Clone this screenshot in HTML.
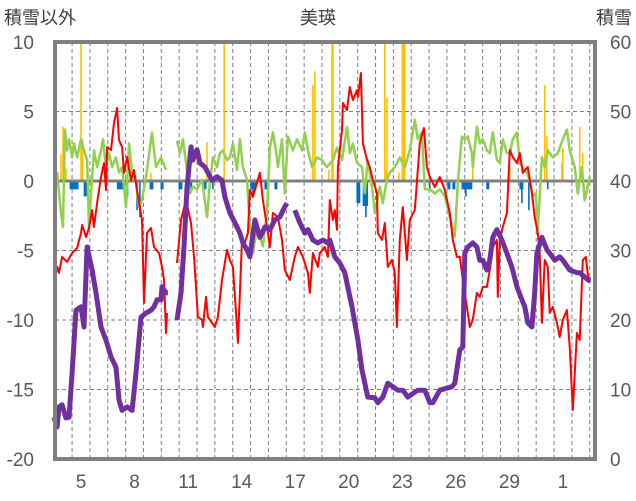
<!DOCTYPE html>
<html><head><meta charset="utf-8"><style>
html,body{margin:0;padding:0;background:#fff;}
svg{display:block;font-family:"Liberation Sans","Noto Sans CJK JP",sans-serif;}
</style></head><body>
<svg id="chart" width="636" height="501" viewBox="0 0 636 501" xmlns="http://www.w3.org/2000/svg">
<text x="4" y="24" font-size="18" fill="#404040">積雪以外</text>
<text x="318" y="24" font-size="18" fill="#404040" text-anchor="middle">美瑛</text>
<text x="632" y="24" font-size="18" fill="#404040" text-anchor="end">積雪</text>
<g id="grid"></g>
<g id="bars"></g>
<line x1="55" x2="595" y1="181" y2="181" stroke="#808080" stroke-width="3"/>
<g id="lines"></g>
<rect x="55" y="42" width="540" height="417" fill="none" stroke="#808080" stroke-width="4"/>
<g id="ticks"></g>
</svg>
<script>
const leftTicks=[10,5,0,-5,-10,-15,-20];
const rightTicks=[60,50,40,30,20,10,0];
const dayTicks=[5,8,11,14,17,20,23,26,29,32];
const dayLabels=["5","8","11","14","17","20","23","26","29","1"];
const redT=[3.49,3.67,3.77,3.94,4.22,4.50,4.78,5.00,5.06,5.28,5.45,5.62,5.73,5.90,6.12,6.29,6.40,6.46,6.68,6.85,7.02,7.13,7.30,7.41,7.58,7.80,7.97,8.14,8.42,8.53,8.70,8.92,9.09,9.37,9.54,9.65,9.76,9.82,null,10.38,10.60,10.88,11.16,11.33,11.38,11.55,11.78,11.83,12.00,12.11,12.34,12.50,12.67,12.90,13.18,13.34,13.51,13.74,13.79,14.02,14.18,14.35,14.46,14.63,14.86,15.02,15.19,15.42,15.58,15.75,16.03,16.26,16.42,16.70,16.98,17.15,17.43,17.71,17.82,17.99,18.27,18.38,18.66,18.83,18.94,19.11,19.22,19.34,19.39,19.62,19.67,19.90,20.06,20.23,20.46,20.51,20.68,20.79,21.02,21.18,21.35,21.58,21.63,21.86,22.02,22.19,22.42,22.58,22.70,22.86,23.03,23.26,23.42,23.70,23.98,24.21,24.38,24.54,24.82,25.10,25.38,25.66,25.83,26.06,26.22,26.39,26.62,26.78,26.95,27.18,27.34,27.51,27.74,27.90,28.07,28.30,28.35,28.46,28.63,28.86,29.02,29.19,29.42,29.58,29.75,30.03,30.26,30.42,30.59,30.70,30.82,30.98,31.15,31.26,31.43,31.66,31.82,31.99,32.22,32.38,32.55,32.78,32.94,33.11,33.28,33.45];
const redV=[-7.33,-6.18,-6.61,-5.46,-5.82,-5.18,-4.82,-3.74,-3.16,-4.03,-3.38,-2.09,-3.31,-1.58,0.29,1.29,-0.65,2.44,2.23,4.17,5.25,2.95,2.44,0.58,1.73,0.07,0.79,-0.65,-2.80,-8.77,-3.74,-3.38,-4.75,-5.18,-6.18,-7.12,-10.93,-9.49,null,-5.90,-2.80,-1.37,-3.02,-5.46,-6.40,-9.78,-9.99,-10.50,-8.34,-9.78,-10.21,-10.50,-9.78,-7.12,-4.96,-5.68,-6.18,-10.50,-11.65,-4.24,-4.46,-3.74,-0.65,-1.15,-0.14,0.58,-1.37,-3.31,-4.75,-2.30,-2.59,-4.24,-6.40,-7.12,-5.46,-4.75,-5.46,-6.61,-8.05,-5.18,-6.18,-5.18,-4.75,-5.46,-1.37,-2.80,-2.09,-3.52,1.01,3.67,5.61,5.10,6.76,5.82,6.54,6.04,7.77,2.73,1.51,1.01,0.07,-0.86,-3.74,-4.24,-3.02,-6.18,-5.68,-6.61,-10.50,-4.24,-1.87,-5.68,-2.80,-2.09,2.73,3.81,1.01,0.29,-0.43,0.29,-0.65,-2.30,-4.24,-5.46,-5.46,-7.12,-9.06,-10.50,-9.99,-8.05,-8.34,-7.62,-7.62,-6.40,-4.75,-4.24,-8.34,-4.24,-3.31,-2.30,2.23,1.73,1.29,2.01,0.58,1.01,-0.86,-2.59,-3.74,-5.18,-10.21,-5.68,-6.18,-9.49,-9.06,-10.21,-11.22,-9.99,-9.28,-11.94,-16.47,-10.93,-11.43,-5.68,-5.46,-7.33];
const greenT=[3.49,3.66,3.88,3.99,4.10,4.22,4.33,4.50,4.61,4.78,5.00,5.17,5.34,5.45,5.56,5.73,5.90,6.12,6.23,6.40,6.57,6.74,6.96,7.13,7.30,7.52,7.69,7.86,8.08,8.25,8.42,8.70,8.98,9.20,9.48,9.76,null,10.38,10.54,10.71,10.94,11.10,11.27,11.50,11.78,12.06,12.22,12.39,12.62,12.78,12.95,13.18,13.34,13.51,13.74,13.90,14.07,14.30,14.46,14.63,14.86,15.02,15.19,15.42,15.58,15.75,15.92,16.03,16.26,16.42,16.59,16.87,17.10,17.38,17.54,17.71,17.94,18.22,18.50,18.78,19.11,19.34,19.62,19.90,20.06,20.23,20.46,20.74,20.90,21.07,21.30,21.46,21.74,21.91,22.14,22.30,22.58,22.86,23.14,23.42,23.70,23.87,24.10,24.26,24.54,24.82,25.10,25.38,25.66,25.94,26.11,26.34,26.50,26.67,26.90,26.95,27.18,27.34,27.51,27.74,27.90,28.07,28.30,28.46,28.63,28.86,29.02,29.19,29.42,29.58,29.75,29.98,30.14,30.31,30.48,30.59,30.82,30.98,31.15,31.43,31.71,31.99,32.22,32.38,32.66,32.83,33.06,33.22,33.50];
const greenV=[0.07,0.6,-2.3,-3.3,3.7,2.2,3.0,1.7,2.7,1.7,3.0,2.2,1.5,-3.5,-0.9,2.2,1.0,2.2,3.0,1.0,2.0,1.0,1.7,0.6,1.0,-1.9,2.7,0.6,-0.1,-1.9,-1.4,0.8,3.5,1.0,1.7,0.8,null,2.9,2.0,3.0,0.8,-0.9,-0.4,-0.6,0.1,-2.6,-0.1,1.7,1.0,2.0,2.2,1.5,1.7,2.7,0.8,3.0,1.0,0.1,-3.3,-5.2,-3.3,-4.0,-4.7,-2.3,2.4,3.5,2.2,1.0,3.0,-0.9,3.2,2.2,3.0,2.2,3.5,2.2,1.0,1.7,1.5,1.0,1.5,2.4,1.5,3.9,2.0,2.7,1.3,1.0,-0.9,1.5,-0.4,-2.3,-0.4,-1.6,0.1,0.6,1.0,1.7,1.0,2.2,4.4,3.0,3.5,-0.6,-0.6,-0.9,-0.6,-1.1,-2.6,-4.0,-0.1,3.2,3.0,3.2,2.0,1.0,3.9,2.7,3.0,2.2,2.0,3.5,1.5,1.3,3.0,2.0,2.0,3.0,3.5,1.3,1.0,0.6,0.1,-1.1,-0.9,-3.5,1.7,1.0,2.2,1.7,2.0,3.0,3.7,2.2,1.0,-0.9,1.0,-1.4,0.3,0.6];
const snowT=[3.49,3.66,3.77,3.94,4.16,4.33,4.50,4.72,5.00,5.17,5.34,5.62,5.84,6.12,6.40,6.68,6.96,7.13,7.30,7.58,7.86,8.08,8.36,8.64,8.92,9.09,9.26,9.48,9.54,9.76,9.87,null,10.38,10.60,10.77,10.94,11.16,11.27,11.50,11.66,11.94,12.11,12.34,12.62,12.90,13.06,13.34,13.62,13.90,14.07,14.30,14.46,14.74,15.02,15.30,15.58,15.86,16.14,16.42,16.54,null,16.98,17.26,17.54,17.71,17.99,18.27,18.55,18.83,18.94,19.22,19.50,19.78,20.18,20.51,20.74,21.07,21.46,21.63,21.91,22.19,22.75,23.03,23.31,23.87,24.26,24.54,24.71,25.10,25.78,25.94,26.22,26.39,26.50,26.67,26.95,27.18,27.34,27.51,27.74,27.90,28.07,28.30,28.58,28.86,29.14,29.42,29.70,29.86,30.03,30.26,30.42,30.54,30.82,31.10,31.26,31.54,31.82,31.99,32.38,32.78,32.94,33.39,33.56];
const snowV=[6.0,4.6,7.5,7.8,5.9,6.0,12.4,21.4,21.9,19.0,30.5,27.2,23.9,19.0,17.1,14.7,13.2,8.5,7.0,7.5,7.0,12.4,20.4,21.0,21.4,21.9,22.9,22.9,24.8,23.9,23.9,null,20.0,23.9,30.5,39.1,44.9,43.0,44.5,42.6,42.0,41.2,40.1,40.6,40.1,37.7,35.4,34.0,32.5,31.1,30.1,29.1,34.4,31.9,33.4,33.0,34.4,34.8,36.3,36.8,null,35.8,34.0,32.5,33.0,31.5,31.1,31.5,31.1,31.5,29.1,28.2,26.8,21.9,17.1,12.8,8.9,8.8,8.1,8.9,10.9,9.9,9.9,8.9,9.9,9.9,8.1,8.1,9.9,10.4,10.9,15.7,16.1,29.6,30.5,31.1,30.5,28.6,28.6,27.2,28.6,31.9,33.0,31.5,29.6,27.6,24.8,22.9,21.9,19.6,19.0,23.9,29.6,31.9,30.1,29.6,28.6,29.1,28.6,27.2,26.8,26.8,25.8,25.8,27.2];
const snowfallT=[3.88,3.99,4.16,5.00,5.08,8.92,12.06,13.02,17.99,18.10,18.89,19.06,19.09,22.02,22.10,22.14,22.81,23.07,26.95,29.02,30.98,31.10,31.94,31.99,32.94,33.11];
const snowfallV=[1.9,3.9,0.9,12,3.0,0.6,2.8,12,6.9,7.9,0.8,8.9,12,12,0.8,6.0,0.6,12,1.5,1.0,6.9,3.2,1.3,2.4,3.9,2.0];
const snowfallW=[0.04,0.04,0.04,0.04,0.1,0.04,0.04,0.04,0.04,0.04,0.04,0.06,0.14,0.04,0.17,0.04,0.04,0.22,0.04,0.04,0.04,0.04,0.04,0.04,0.04,0.04];
const meltT=[4.61,5.25,7.18,7.60,8.14,8.30,8.95,9.54,10.57,11.08,11.92,12.39,14.66,14.63,15.36,15.92,20.54,20.93,20.96,24.54,25.61,25.89,26.62,26.56,27.79,29.67,29.70,30.09,31.15];
const meltV=[-0.6,-1.1,-0.6,-1.1,-2.1,-2.6,-0.6,-0.6,-0.6,-0.6,-0.6,-0.6,-0.6,-1.1,-0.6,-0.6,-1.6,-1.8,-2.6,-0.6,-0.6,-0.6,-0.6,-1.1,-0.6,-0.6,-1.6,-2.1,-0.6];
const meltW=[0.5,0.2,0.34,0.1,0.06,0.06,0.22,0.17,0.22,0.3,0.22,0.06,0.34,0.06,0.17,0.17,0.22,0.3,0.06,0.06,0.17,0.17,0.6,0.06,0.17,0.22,0.06,0.06,0.06];

const NS='http://www.w3.org/2000/svg';
const X0=55,X1=595,Y0=42,Y1=459;
const xS=t=>81+(t-5)*17.85;
const yL=v=>Y1-(v+20)/30*(Y1-Y0);
const yR=s=>Y1-s/60*(Y1-Y0);
function mk(tag,attrs,parent){const e=document.createElementNS(NS,tag);for(const k in attrs)e.setAttribute(k,attrs[k]);parent.appendChild(e);return e;}
const grid=document.getElementById('grid'),bars=document.getElementById('bars'),lines=document.getElementById('lines'),ticks=document.getElementById('ticks');
leftTicks.forEach(v=>{if(v===10||v===-20||v===0)return;const y=yL(v);
 const l=mk('line',{x1:X0,x2:X1,y1:y,y2:y,stroke:'#808080','stroke-width':1,'stroke-dasharray':'4,3'},grid);
 
 });
for(let d=4;d<=33;d++){const x=xS(d+0.5);if(x<=X0+2||x>=X1-2)continue;
 const l=mk('line',{x1:x,x2:x,y1:Y0,y2:Y1,stroke:'#808080','stroke-width':1,'stroke-dasharray':'4,3'},grid);
 
 }
function clampY(y){return Math.max(Y0,Math.min(Y1,y));}
snowfallT.forEach((t,i)=>{const w=Math.max(1.6,snowfallW[i]*17.85);const y=clampY(yL(snowfallV[i]));
 const r=mk('rect',{x:xS(t)-w/2,y:y,width:w,height:181-y,fill:'#FFC000'},bars);
 
 });
meltT.forEach((t,i)=>{const w=Math.max(1.6,meltW[i]*17.85);const y=yL(meltV[i]);
 const r=mk('rect',{x:xS(t)-w/2,y:181,width:w,height:y-181,fill:'#0070C0'},bars);
 
 });
function path(T,V,ys){let d='',pen=false;for(let i=0;i<T.length;i++){if(T[i]===null||V[i]===null){pen=false;continue;}d+=(pen?'L':'M')+xS(T[i]).toFixed(1)+','+ys(V[i]).toFixed(1);pen=true;}return d;}
const g=mk('path',{d:path(greenT,greenV,yL),fill:'none',stroke:'#92D050','stroke-width':2.5,'stroke-linejoin':'round'},lines);


const r=mk('path',{d:path(redT,redV,yL),fill:'none',stroke:'#FF0000','stroke-width':2,'stroke-linejoin':'round'},lines);


const p=mk('path',{d:path(snowT,snowV,yR),fill:'none',stroke:'#7030A0','stroke-width':5,'stroke-linejoin':'round'},lines);


leftTicks.forEach(v=>{const t=mk('text',{x:34,y:yL(v)+7,'font-size':19,fill:'#595959','text-anchor':'end'},ticks);t.textContent=v;
 
 });
rightTicks.forEach(v=>{const t=mk('text',{x:610,y:yR(v)+7,'font-size':19,fill:'#595959'},ticks);t.textContent=v;
 
 });
dayTicks.forEach((d,i)=>{const t=mk('text',{x:xS(d),y:488,'font-size':19,fill:'#595959','text-anchor':'middle'},ticks);t.textContent=dayLabels[i];
 
 });
</script>
</body></html>
